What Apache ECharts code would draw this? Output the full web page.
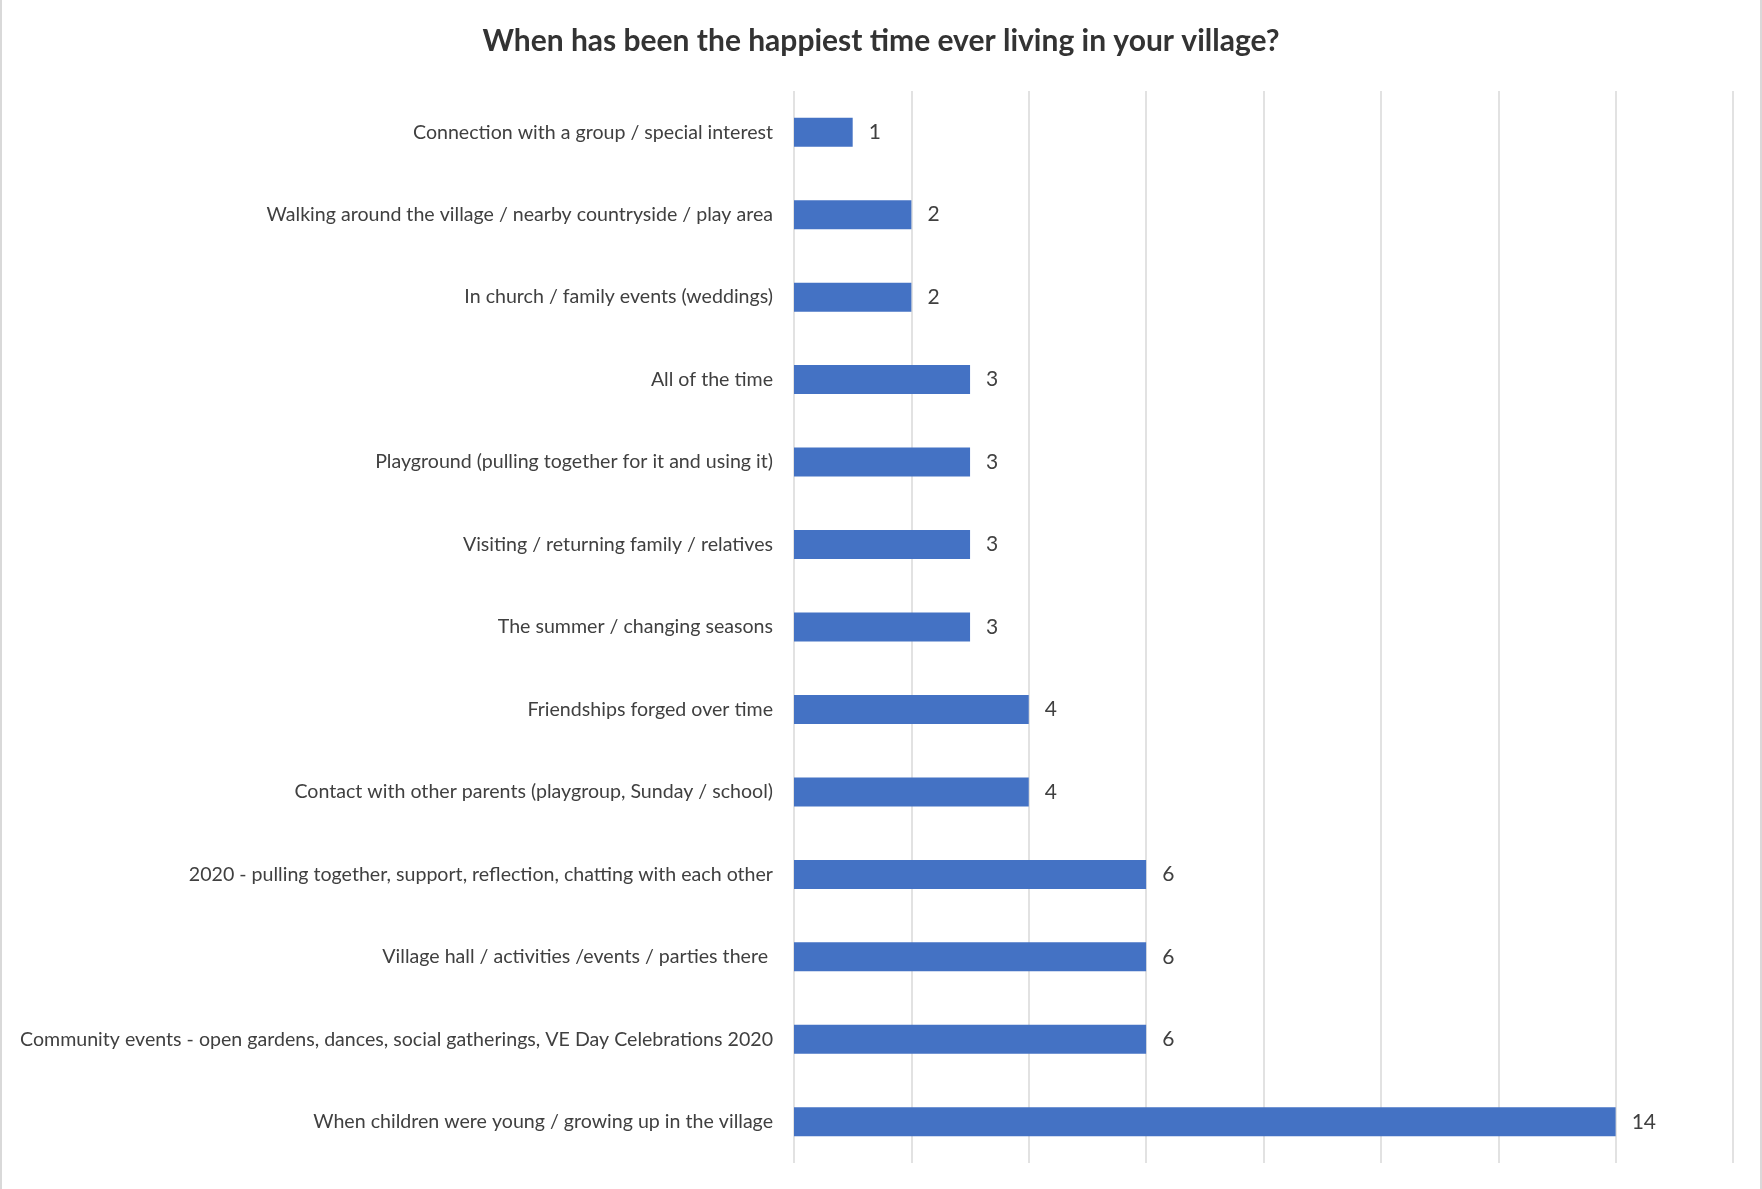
<!DOCTYPE html>
<html>
<head>
<meta charset="utf-8">
<script src="https://cdn.jsdelivr.net/npm/echarts@6/dist/echarts.min.js"></script>
<style>
  html, body { margin: 0; padding: 0; background: #ffffff; }
  #chart { width: 1762px; height: 1189px; }
</style>
</head>
<body>
<div id="chart"></div>
<script>
// Answers, listed top to bottom
const categories = [
  'Connection with a group / special interest',
  'Walking around the village / nearby countryside / play area',
  'In church / family events (weddings)',
  'All of the time',
  'Playground (pulling together for it and using it)',
  'Visiting / returning family / relatives',
  'The summer / changing seasons',
  'Friendships forged over time',
  'Contact with other parents (playgroup, Sunday / school)',
  '2020 - pulling together, support, reflection, chatting with each other',
  'Village hall / activities /events / parties there ',
  'Community events - open gardens, dances, social gatherings, VE Day Celebrations 2020',
  'When children were young / growing up in the village'
];
const counts = [1, 2, 2, 3, 3, 3, 3, 4, 4, 6, 6, 6, 14];
const axisMax = 16;
const axisStep = 2;

const chart = echarts.init(document.getElementById('chart'), null, { renderer: 'canvas' });
const FONT = 'Lato, "Open Sans", sans-serif';

chart.setOption({
  backgroundColor: '#ffffff',
  animation: false,
  title: {
    text: 'When has been the happiest time ever living in your village?',
    left: 'center',
    top: 21,
    textStyle: { fontFamily: FONT, fontSize: 30, fontWeight: 'bold', color: '#333333' }
  },
  graphic: [
    { type: 'line', shape: { x1: 1, y1: 0, x2: 1, y2: 1189 }, style: { stroke: '#d9d9d9', lineWidth: 2 } },
    { type: 'line', shape: { x1: 1761, y1: 0, x2: 1761, y2: 1189 }, style: { stroke: '#d9d9d9', lineWidth: 2 } }
  ],
  grid: { left: 794, right: 29, top: 91, bottom: 26, containLabel: false },
  xAxis: {
    type: 'value',
    min: 0,
    max: axisMax,
    interval: axisStep,
    axisLabel: { show: false },
    axisLine: { show: false },
    axisTick: { show: false },
    splitLine: { show: true, lineStyle: { color: '#d9d9d9', width: 1.5 } }
  },
  yAxis: {
    type: 'category',
    inverse: true,
    data: categories,
    axisLine: { show: false },
    axisTick: { show: false },
    axisLabel: { margin: 21, fontFamily: FONT, fontSize: 19.6, color: '#404040' }
  },
  series: [{
    type: 'bar',
    data: counts,
    barWidth: 29,
    itemStyle: { color: '#4472c4' },
    label: {
      show: true,
      position: 'right',
      distance: 16,
      fontFamily: FONT,
      fontSize: 21,
      color: '#404040'
    }
  }]
});
</script>
</body>
</html>
